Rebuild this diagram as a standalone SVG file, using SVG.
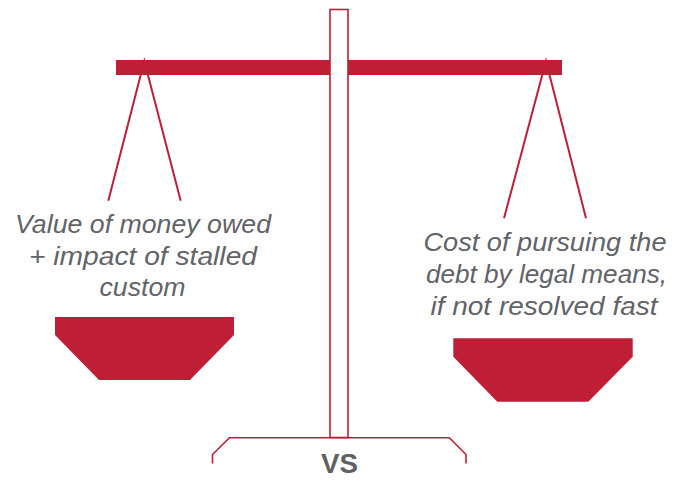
<svg xmlns="http://www.w3.org/2000/svg" width="687" height="481" viewBox="0 0 687 481">
  <style>
    .red { fill: #be1e36; }
    .cord { stroke: #be1e36; stroke-width: 2; fill: none; stroke-linecap: butt; }
    .outline { stroke: #be1e36; stroke-width: 1.6; fill: #ffffff; }
    .label { font-family: "Liberation Sans", Arial, sans-serif; font-style: italic; font-size: 26px; fill: #616368; text-anchor: middle; }
    .vs { font-family: "Liberation Sans", Arial, sans-serif; font-weight: bold; font-size: 28px; fill: #5f6065; text-anchor: middle; }
  </style>
  <rect width="687" height="481" fill="#ffffff"/>

  <!-- beam -->
  <g id="beam">
    <rect class="red" x="116" y="60" width="446" height="15"/>
  </g>

  <!-- central pole drawn over the beam -->
  <g id="pole">
    <rect class="outline" x="330" y="9.5" width="18" height="428"/>
  </g>

  <!-- base bracket -->
  <g id="base">
    <polyline class="cord" style="stroke-width:1.6" points="212.5,463.5 212.5,454.5 229.5,437.7 449.3,437.7 466,454.5 466,463.5"/>
    <text class="vs" x="339.5" y="473" textLength="37" lengthAdjust="spacingAndGlyphs">VS</text>
  </g>

  <!-- left cords, label and pan -->
  <g id="left-pan">
    <polyline class="cord" points="108.3,200.7 144.3,61 180.7,200.7"/>
    <text class="label" x="143" y="233" textLength="256" lengthAdjust="spacingAndGlyphs">Value of money owed</text>
    <text class="label" x="143" y="264.5" textLength="228" lengthAdjust="spacingAndGlyphs">+ impact of stalled</text>
    <text class="label" x="142.5" y="296" textLength="86" lengthAdjust="spacingAndGlyphs">custom</text>
    <polygon class="red" points="55,317 234,317 234,335 190,380 99,380 55,335"/>
  </g>

  <!-- right cords, label and pan -->
  <g id="right-pan">
    <polyline class="cord" points="504,218.3 546,61 586,218.3"/>
    <text class="label" x="545" y="251" textLength="243" lengthAdjust="spacingAndGlyphs">Cost of pursuing the</text>
    <text class="label" x="546.5" y="283" textLength="241" lengthAdjust="spacingAndGlyphs">debt by legal means,</text>
    <text class="label" x="544" y="315" textLength="227" lengthAdjust="spacingAndGlyphs">if not resolved fast</text>
    <polygon class="red" points="453.3,338.3 632.7,338.3 632.7,356.7 588.3,401.7 497.3,401.7 453.3,356.7"/>
  </g>
</svg>
